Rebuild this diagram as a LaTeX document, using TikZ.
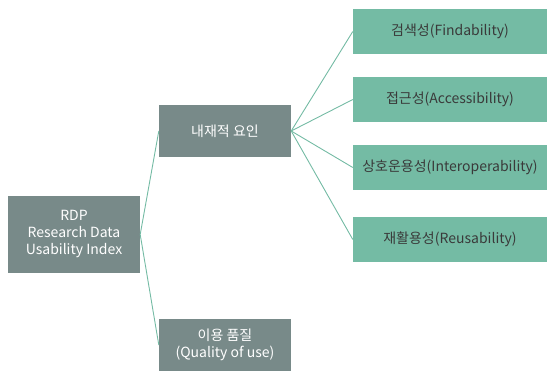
\documentclass[tikz,border=0pt]{standalone}
\usepackage{fontspec}
\setmainfont{Noto Sans CJK KR}
\definecolor{greybox}{HTML}{788A89}
\definecolor{greenbox}{HTML}{74BBA4}
\definecolor{darktext}{HTML}{3A3A3A}
\begin{document}
\begin{tikzpicture}[x=1pt,y=-1pt,
  gbox/.style={fill=greybox,draw=none,text=white,inner sep=0pt,align=center,font=\fontsize{14}{17}\selectfont},
  tbox/.style={fill=greenbox,draw=none,text=darktext,inner sep=0pt,align=center,minimum width=194pt,minimum height=45pt,font=\fontsize{14}{17}\selectfont},
  link/.style={draw=greenbox,line width=0.9pt}]
\useasboundingbox (0,0) rectangle (547,371);
\node[gbox,minimum width=132pt,minimum height=77pt] (rdp) at (74,234.5) {RDP\\Research Data\\Usability Index};
\node[gbox,minimum width=132pt,minimum height=52pt] (intr) at (225,131) {내재적 요인};
\node[gbox,minimum width=132pt,minimum height=52pt] (qual) at (225,345) {이용 품질\\(Quality of use)};
\node[tbox] (f) at (450,31.5) {검색성(Findability)};
\node[tbox] (a) at (450,99.5) {접근성(Accessibility)};
\node[tbox] (i) at (450,167.5) {상호운용성(Interoperability)};
\node[tbox] (r) at (450,239.5) {재활용성(Reusability)};
\draw[link] (rdp.east) -- (intr.west);
\draw[link] (rdp.east) -- (qual.west);
\foreach \n in {f,a,i,r} \draw[link] (intr.east) -- (\n.west);
\end{tikzpicture}
\end{document}
